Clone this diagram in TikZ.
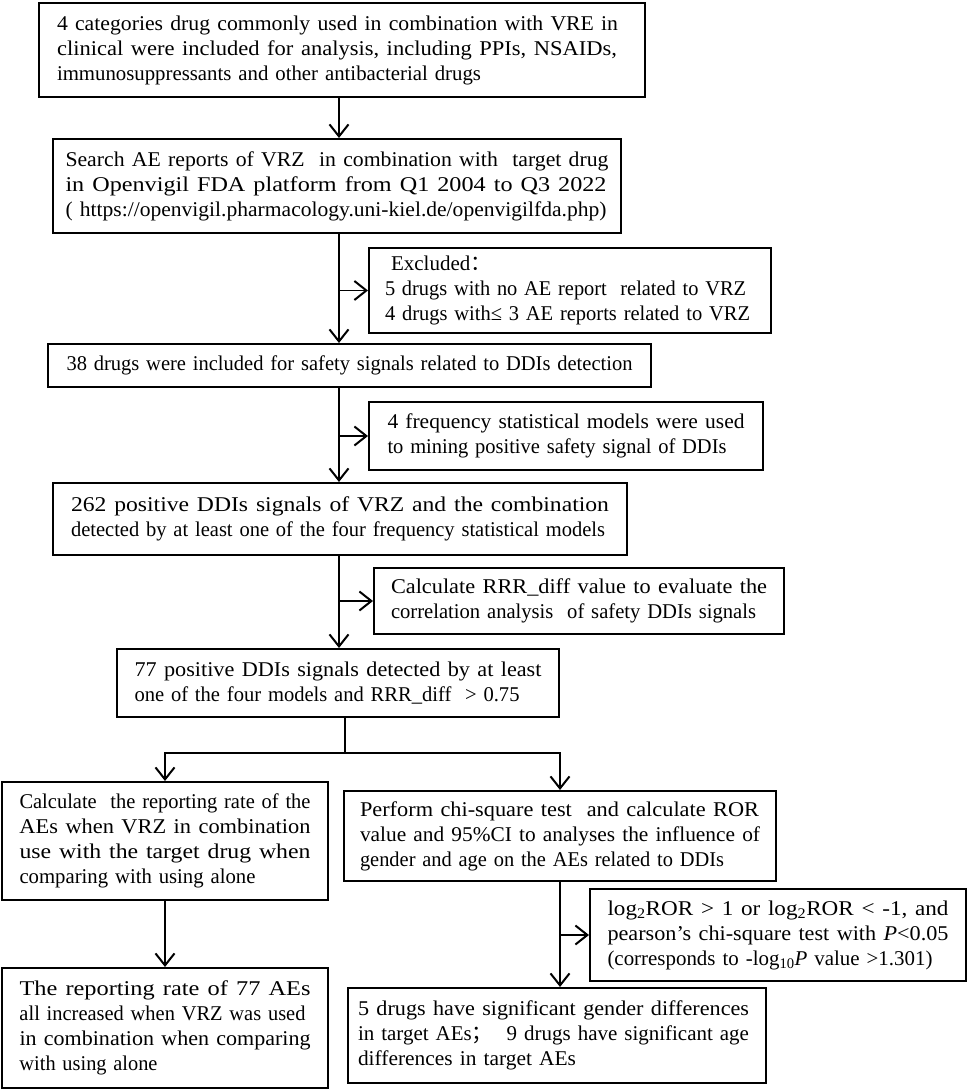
\documentclass[tikz,border=0pt]{standalone}
\usepackage{fontspec}
\setmainfont{Liberation Serif}
\newfontfamily\cjk{Noto Sans CJK SC}
\usepackage{graphicx}
\usetikzlibrary{arrows.meta}

% one printed line, stretched or squeezed to the width it has in the chart
\newcommand{\fitline}[2]{\resizebox{#1}{\height}{#2}}

\begin{document}
\begin{tikzpicture}[
  x=1pt, y=-1pt,
  box/.style={draw, line width=2pt, inner xsep=0pt, inner ysep=0pt, align=left,
    font=\fontsize{21}{25}\selectfont},
  arr/.style={-{Straight Barb[length=12pt,width=19pt,line width=2pt]}, line width=1.8pt},
  link/.style={line width=1.8pt}
]
\useasboundingbox (0,0) rectangle (969,1091);

\node[box, minimum width=606pt, minimum height=94pt, text width=570pt] (intro) at (342,50)
  {\fitline{561pt}{4 categories drug commonly used in combination with VRE in}\\
   \fitline{560pt}{clinical were included for analysis, including PPIs, NSAIDs,}\\
   \fitline{424pt}{immunosuppressants and other antibacterial drugs}};
\node[box, minimum width=568pt, minimum height=94pt, text width=543pt] (search) at (337,186)
  {\fitline{543pt}{Search AE reports of VRZ\ \ in combination with\ \ target drug}\\
   \fitline{541pt}{in Openvigil FDA platform from Q1 2004 to Q3 2022}\\
   \fitline{541pt}{( https://openvigil.pharmacology.uni-kiel.de/openvigilfda.php)}};
\node[box, minimum width=402pt, minimum height=85pt, text width=370pt] (excl) at (570,290.5)
  {\hspace*{6pt}Excluded{\cjk ：}\\
   \fitline{361pt}{5 drugs with no AE report\ \ related to VRZ}\\
   \fitline{365pt}{4 drugs with≤ 3 AE reports related to VRZ}};
\node[box, minimum width=603pt, minimum height=43pt, text width=566pt] (drugs) at (349.5,365.5)
  {\fitline{566pt}{38 drugs were included for safety signals related to DDIs detection}};
\node[box, minimum width=394pt, minimum height=68pt, text width=357pt] (freq) at (566,436)
  {\fitline{357pt}{4 frequency statistical models were used}\\
   \fitline{339pt}{to mining positive safety signal of DDIs}};
\node[box, minimum width=574pt, minimum height=72pt, text width=538pt] (pos262) at (340,519)
  {\fitline{538pt}{262 positive DDIs signals of VRZ and the combination}\\
   \fitline{534pt}{detected by at least one of the four frequency statistical models}};
\node[box, minimum width=410pt, minimum height=66pt, text width=376pt] (rrr) at (579,601)
  {\fitline{376pt}{Calculate RRR\_diff value to evaluate the}\\
   \fitline{365pt}{correlation analysis\ \ of safety DDIs signals}};
\node[box, minimum width=442pt, minimum height=68pt, text width=407pt] (pos77) at (338,683)
  {\fitline{407pt}{77 positive DDIs signals detected by at least}\\
   \fitline{385pt}{one of the four models and RRR\_diff\ \ > 0.75}};

% two branches
\node[box, minimum width=326pt, minimum height=118pt, text width=291pt] (rate) at (165,841)
  {\fitline{291pt}{Calculate\ \ the reporting rate of the}\\
   \fitline{291pt}{AEs when VRZ in combination}\\
   \fitline{291pt}{use with the target drug when}\\
   \fitline{236pt}{comparing with using alone}};
\node[box, minimum width=326pt, minimum height=120pt, text width=291pt] (incr) at (165,1028)
  {\fitline{291pt}{The reporting rate of 77 AEs}\\
   \fitline{286pt}{all increased when VRZ was used}\\
   \fitline{291pt}{in combination when comparing}\\
   \fitline{138pt}{with using alone}};
\node[box, minimum width=432pt, minimum height=90pt, text width=400pt] (chisq) at (560,836)
  {\fitline{399pt}{Perform chi-square test\ \ and calculate ROR}\\
   \fitline{400pt}{value and 95\%CI to analyses the influence of}\\
   \fitline{364pt}{gender and age on the AEs related to DDIs}};
\node[box, minimum width=376pt, minimum height=92pt, text width=341pt] (crit) at (778,935)
  {\fitline{341pt}{log\textsubscript{2}ROR > 1 or log\textsubscript{2}ROR < -1, and}\\
   \fitline{341pt}{pearson’s chi-square test with \textit{P}<0.05}\\
   \fitline{325pt}{(corresponds to -log\textsubscript{10}\textit{P} value >1.301)}};
\node[box, minimum width=418pt, minimum height=95pt, text width=398pt] (sig) at (557,1035.5)
  {\fitline{391pt}{5 drugs have significant gender differences}\\
   \fitline{391pt}{in target AEs{\cjk ；}\ \ 9 drugs have significant age}\\
   \fitline{218pt}{differences in target AEs}};

\coordinate (axis) at (339,0);
\coordinate (split) at (345,753);

\draw[arr] (intro.south -| axis) -- (search.north -| axis);
\draw[arr] (search.south -| axis) -- (drugs.north -| axis);
\draw[arr] (axis |- excl.west) -- (excl.west);
\draw[arr] (drugs.south -| axis) -- (pos262.north -| axis);
\draw[arr] (axis |- freq.west) -- (freq.west);
\draw[arr] (pos262.south -| axis) -- (pos77.north -| axis);
\draw[arr] (axis |- rrr.west) -- (rrr.west);

\draw[link] (pos77.south -| split) -- (split);
\draw[arr] (split) -| (rate.north);
\draw[arr] (split) -| (chisq.north);
\draw[arr] (rate.south) -- (incr.north);
\draw[arr] (chisq.south) -- (sig.north -| chisq.south);
\draw[arr] (chisq.south |- crit.west) -- (crit.west);
\end{tikzpicture}
\end{document}
